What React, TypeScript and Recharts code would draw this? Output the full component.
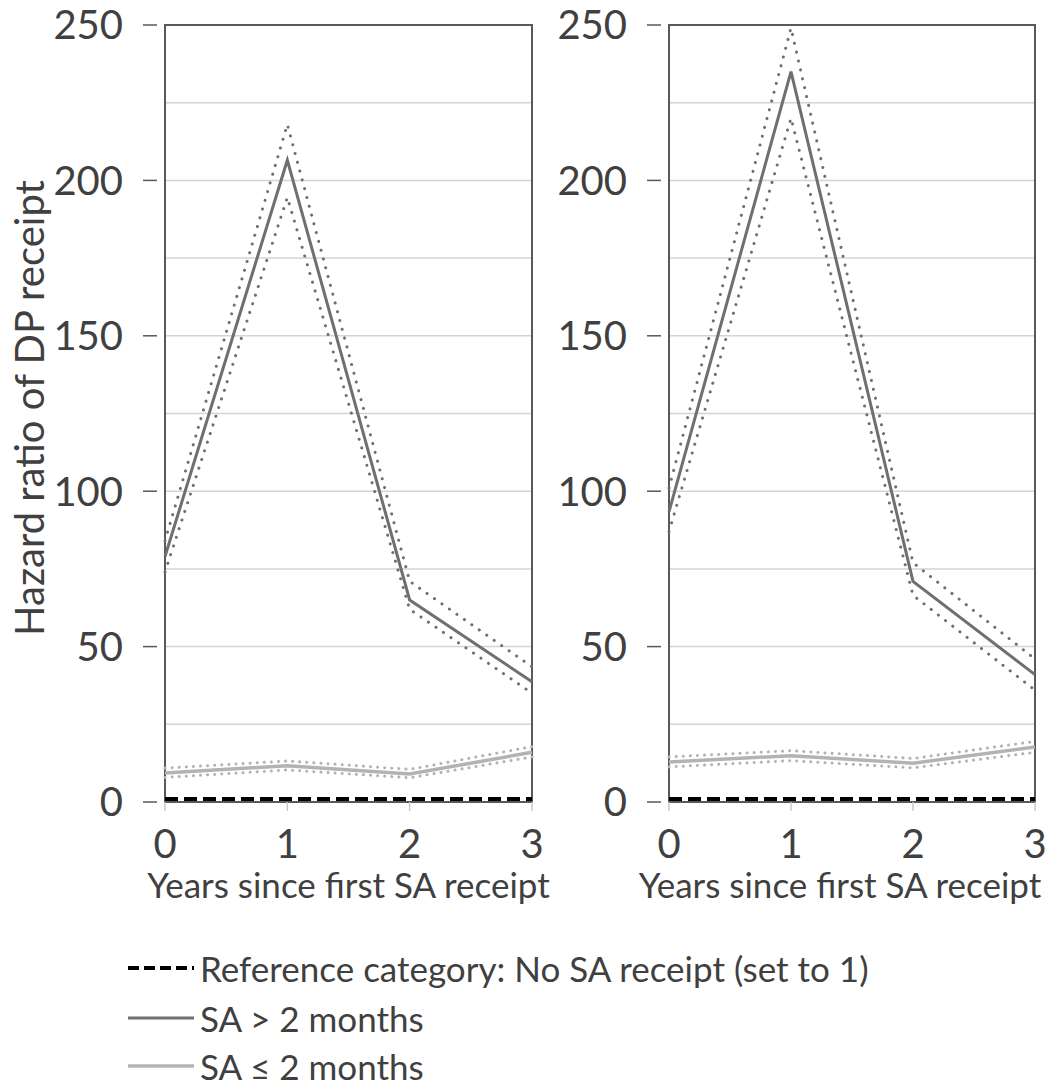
import { LineChart, Line, XAxis, YAxis, CartesianGrid, ReferenceArea } from 'recharts';

const years = ['0', '1', '2', '3'];
const yTicks = [0, 25, 50, 75, 100, 125, 150, 175, 200, 225, 250];
const refValues = [1, 1, 1, 1];

// left panel
const leftLong = [79, 206.5, 65, 38.7];
const leftLongUpper = [84, 218, 71, 43.5];
const leftLongLower = [74, 194.5, 62, 35];
const leftShort = [9.3, 11.7, 9.0, 16];
const leftShortUpper = [10.9, 13.2, 10.5, 17.8];
const leftShortLower = [7.9, 10.3, 7.8, 14.5];

// right panel
const rightLong = [93.4, 235, 71, 41];
const rightLongUpper = [101, 249, 77, 46];
const rightLongLower = [87, 220, 66.5, 36];
const rightShort = [12.9, 14.9, 12.5, 17.7];
const rightShortUpper = [14.5, 16.5, 14, 19.5];
const rightShortLower = [11.3, 13.3, 11, 16];

const font = 'Lato, "Open Sans", sans-serif';
const dark = '#6f6f6f';
const light = '#b3b3b3';
const txt = '#404040';

function build(hr: number[], up: number[], lo: number[], s: number[], su: number[], sl: number[]) {
  return years.map((y, i) => ({
    year: y,
    ref: refValues[i],
    hr: hr[i],
    up: up[i],
    lo: lo[i],
    s: s[i],
    su: su[i],
    sl: sl[i],
  }));
}

const YTick = (props: any) => {
  const { x, y, payload } = props;
  if (payload.value % 50 !== 0) return null;
  return (
    <g>
      <line x1={x - 14} x2={x} y1={y} y2={y} stroke="#595959" strokeWidth={1.5} />
      <text x={x - 34} y={y} dy="0.36em" textAnchor="end" fontSize={40} fill={txt} fontFamily={font}>
        {payload.value}
      </text>
    </g>
  );
};

function Panel({ data, width, left, marginLeft, marginRight, labelDx }: any) {
  return (
    <div style={{ position: 'absolute', left, top: 0 }}>
      <LineChart width={width} height={925} data={data} margin={{ top: 25, right: marginRight, left: marginLeft, bottom: 23 }}>
        <CartesianGrid vertical={false} stroke="#d4d4d4" strokeWidth={1.5} />
        <XAxis
          dataKey="year"
          axisLine={false}
          tickSize={9}
          tickLine={{ stroke: '#c8c8c8', strokeWidth: 1.5 }}
          tickMargin={19}
          height={100}
          tick={{ fontSize: 40, fill: txt, fontFamily: font }}
          label={{ value: 'Years since first SA receipt', position: 'insideBottom', offset: 4, dx: labelDx, fontSize: 35, fill: txt, fontFamily: font }}
        />
        <YAxis
          domain={[0, 250]}
          ticks={yTicks}
          interval={0}
          width={100}
          axisLine={false}
          tickLine={false}
          tick={<YTick />}
        />
        <ReferenceArea x1="0" x2="3" y1={0} y2={250} fill="none" stroke="#595959" strokeWidth={2} ifOverflow="visible" />
        <Line dataKey="ref" stroke="#000" strokeWidth={4} strokeDasharray="13 6" dot={false} isAnimationActive={false} />
        <Line dataKey="su" stroke={light} strokeWidth={3} strokeDasharray="0.1 7" strokeLinecap="round" dot={false} isAnimationActive={false} />
        <Line dataKey="sl" stroke={light} strokeWidth={3} strokeDasharray="0.1 7" strokeLinecap="round" dot={false} isAnimationActive={false} />
        <Line dataKey="s" stroke={light} strokeWidth={3.5} dot={false} isAnimationActive={false} />
        <Line dataKey="up" stroke={dark} strokeWidth={3} strokeDasharray="0.1 9" strokeLinecap="round" dot={false} isAnimationActive={false} />
        <Line dataKey="lo" stroke={dark} strokeWidth={3} strokeDasharray="0.1 9" strokeLinecap="round" dot={false} isAnimationActive={false} />
        <Line dataKey="hr" stroke={dark} strokeWidth={3} dot={false} isAnimationActive={false} />
      </LineChart>
    </div>
  );
}

const legendItems = [
  { label: 'Reference category: No SA receipt (set to 1)', color: '#000', dash: '11 5', width: 4, center: 968 },
  { label: 'SA > 2 months', color: dark, dash: undefined, width: 3, center: 1018 },
  { label: 'SA ≤ 2 months', color: light, dash: undefined, width: 3.5, center: 1066 },
];

export default function App() {
  const leftData = build(leftLong, leftLongUpper, leftLongLower, leftShort, leftShortUpper, leftShortLower);
  const rightData = build(rightLong, rightLongUpper, rightLongLower, rightShort, rightShortUpper, rightShortLower);
  return (
    <div style={{ position: 'absolute', left: 0, top: 0, width: 1054, height: 1091, background: '#fff', fontFamily: font, overflow: 'hidden' }}>
      <Panel data={leftData} width={560} left={0} marginLeft={65} marginRight={28} labelDx={0} />
      <Panel data={rightData} width={524} left={530} marginLeft={39} marginRight={19} labelDx={-12} />
      <div
        style={{
          position: 'absolute',
          left: 29,
          top: 408,
          transform: 'translate(-50%, -50%) rotate(-90deg)',
          whiteSpace: 'nowrap',
          fontSize: 40,
          lineHeight: '40px',
          color: txt,
        }}
      >
        Hazard ratio of DP receipt
      </div>
      {legendItems.map((it) => (
        <div key={it.label} style={{ position: 'absolute', left: 128, top: it.center - 18, height: 36, display: 'flex', alignItems: 'center', whiteSpace: 'nowrap' }}>
          <svg width={70} height={36}>
            <line x1={0} x2={66} y1={18} y2={18} stroke={it.color} strokeWidth={it.width} strokeDasharray={it.dash} />
          </svg>
          <span style={{ fontSize: 35, lineHeight: '36px', color: txt, marginLeft: 2 }}>{it.label}</span>
        </div>
      ))}
    </div>
  );
}
